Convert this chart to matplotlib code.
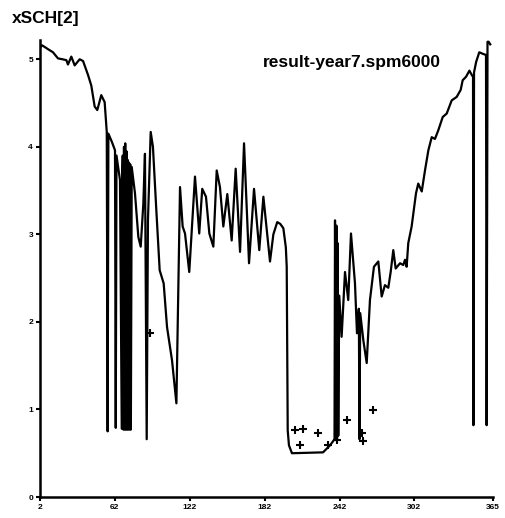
import matplotlib
matplotlib.use("Agg")
import matplotlib.pyplot as plt

# main series (day, value)
days = [2, 3.5, 5.8, 9, 12.4, 16.4, 20, 23.1, 24.4, 27.1, 29.8, 33.8, 36.5, 40.5, 43.1,
        45.8, 47.9, 51.1, 53.8, 55.5,
        56.2, 56.8, 59.5, 62.1, 62.7, 63.3, 66.1, 67.5, 68.0,
        68.3, 68.8, 69.3, 69.8, 70.3, 70.8, 71.3, 71.8, 72.3, 72.8, 73.3, 73.8, 74.3, 74.8,
        75.5, 78.1, 80.8, 82.7, 84.8, 86.1, 87.5, 88.5, 90.7, 92.5, 95.2, 97.9, 101.1,
        103.8, 107.8, 111.3,
        114.2, 116.3, 118.2, 121.6, 126.2, 129.6, 132.0, 135.0, 137.7, 140.9, 143.6, 146.2,
        148.9, 152.1, 155.6, 158.8, 162.3, 165.5, 169.5, 173.5, 177.7, 181.0, 186.3, 189.0,
        192.1, 194.5, 197.0, 199.0, 199.7, 200.5, 201.5, 203.9, 228.8, 234.4, 238.0,
        238.4, 239.0, 239.5, 240.0, 240.5, 241.0, 241.8, 243.7, 246.4, 249.0, 251.2, 254.4,
        256.0, 257.5, 258.0, 258.6, 261.1, 263.8, 266.4, 269.6, 273.1, 275.8, 278.4, 281.1,
        283.0, 285.1, 287.0, 290.5, 293.1, 294.5, 295.8, 297.1, 299.8, 303.3, 305.1, 307.9,
        310.5, 313.2, 315.9, 318.5, 321.2, 324.7, 327.9, 331.9, 335.9, 339.1, 340.7, 343.4,
        346.1, 348.0, 349.0, 349.3, 349.8, 351.5, 354.0, 357.2, 359.4, 359.9, 360.6, 361.5,
        362.8]
values = [5.13, 5.16, 5.14, 5.11, 5.08, 5.01, 5.00, 4.99, 4.94, 5.03, 4.93, 5.00, 4.98, 4.82, 4.70,
          4.46, 4.42, 4.59, 4.51, 4.17,
          0.75, 4.15, 4.06, 3.96, 0.79, 3.90, 3.62, 0.78, 3.70,
          3.90, 0.77, 4.00, 0.77, 4.04, 0.77, 3.95, 0.77, 3.85, 0.77, 3.82, 0.77, 3.80, 0.77,
          3.77, 3.47, 2.97, 2.86, 3.35, 3.92, 0.66, 3.16, 4.17, 4.00, 3.28, 2.59, 2.44,
          1.94, 1.56, 1.07,
          3.54, 3.09, 3.01, 2.57, 3.66, 3.01, 3.52, 3.43, 3.01, 2.86, 3.73, 3.54,
          3.09, 3.46, 2.93, 3.75, 2.80, 4.04, 2.67, 3.52, 2.82, 3.43, 2.69, 3.00,
          3.14, 3.12, 3.07, 2.85, 2.63, 0.76, 0.59, 0.50, 0.51, 0.59, 0.66,
          3.16, 0.65, 3.10, 0.65, 2.90, 0.70, 2.30, 1.83, 2.57, 2.25, 3.01, 2.44,
          1.87, 2.15, 0.66, 2.10, 1.79, 1.53, 2.25, 2.63, 2.69, 2.29, 2.42, 2.39,
          2.57, 2.82, 2.61, 2.67, 2.65, 2.71, 2.63, 2.90, 3.09, 3.47, 3.58, 3.49,
          3.73, 3.96, 4.11, 4.09, 4.19, 4.34, 4.38, 4.53, 4.57, 4.65, 4.76, 4.80,
          4.87, 4.82, 4.80, 0.82, 4.85, 4.97, 5.08, 5.06, 5.05, 0.82, 5.20, 5.20,
          5.17]

# observation markers
obs_days = [90.1, 206.3, 213.0, 210.3, 225.0, 233.0, 240.2, 247.8, 259.8, 261.1, 268.6]
obs_values = [1.87, 0.76, 0.78, 0.59, 0.73, 0.59, 0.65, 0.88, 0.73, 0.64, 0.99]

xticks = [2, 62, 122, 182, 242, 302, 365]
yticks = [0, 1, 2, 3, 4, 5]

fig = plt.figure(figsize=(5.05, 5.18), dpi=100)
ax = fig.add_axes([40/505, 21/518, 453/505, 457/518])

ax.plot(days, values, color="black", linewidth=1.6, solid_joinstyle="round")
ax.plot(obs_days, obs_values, linestyle="none", marker="+", color="black",
        markersize=6, markeredgewidth=1.5)

ax.set_xlim(2, 365)
ax.set_ylim(0, 5.22)
ax.set_xticks(xticks)
ax.set_xticklabels([str(t) for t in xticks])
ax.set_yticks(yticks)
ax.set_yticklabels([str(t) for t in yticks])

for s in ["top", "right"]:
    ax.spines[s].set_visible(False)
for s in ["left", "bottom"]:
    ax.spines[s].set_linewidth(1.8)

ax.tick_params(axis="both", direction="out", length=3, width=1.5, pad=2)
for lab in ax.get_xticklabels() + ax.get_yticklabels():
    lab.set_fontsize(6)
    lab.set_fontweight("bold")
    lab.set_family("Liberation Sans")

fig.text(12/505, 1 - 18/518, "xSCH[2]", fontsize=12.5, fontweight="bold",
         family="Liberation Sans", va="center", ha="left")
fig.text(263/505, 1 - 62/518, "result-year7.spm6000", fontsize=12.5, fontweight="bold",
         family="Liberation Sans", va="center", ha="left")

fig.savefig("out.png", dpi=100)
